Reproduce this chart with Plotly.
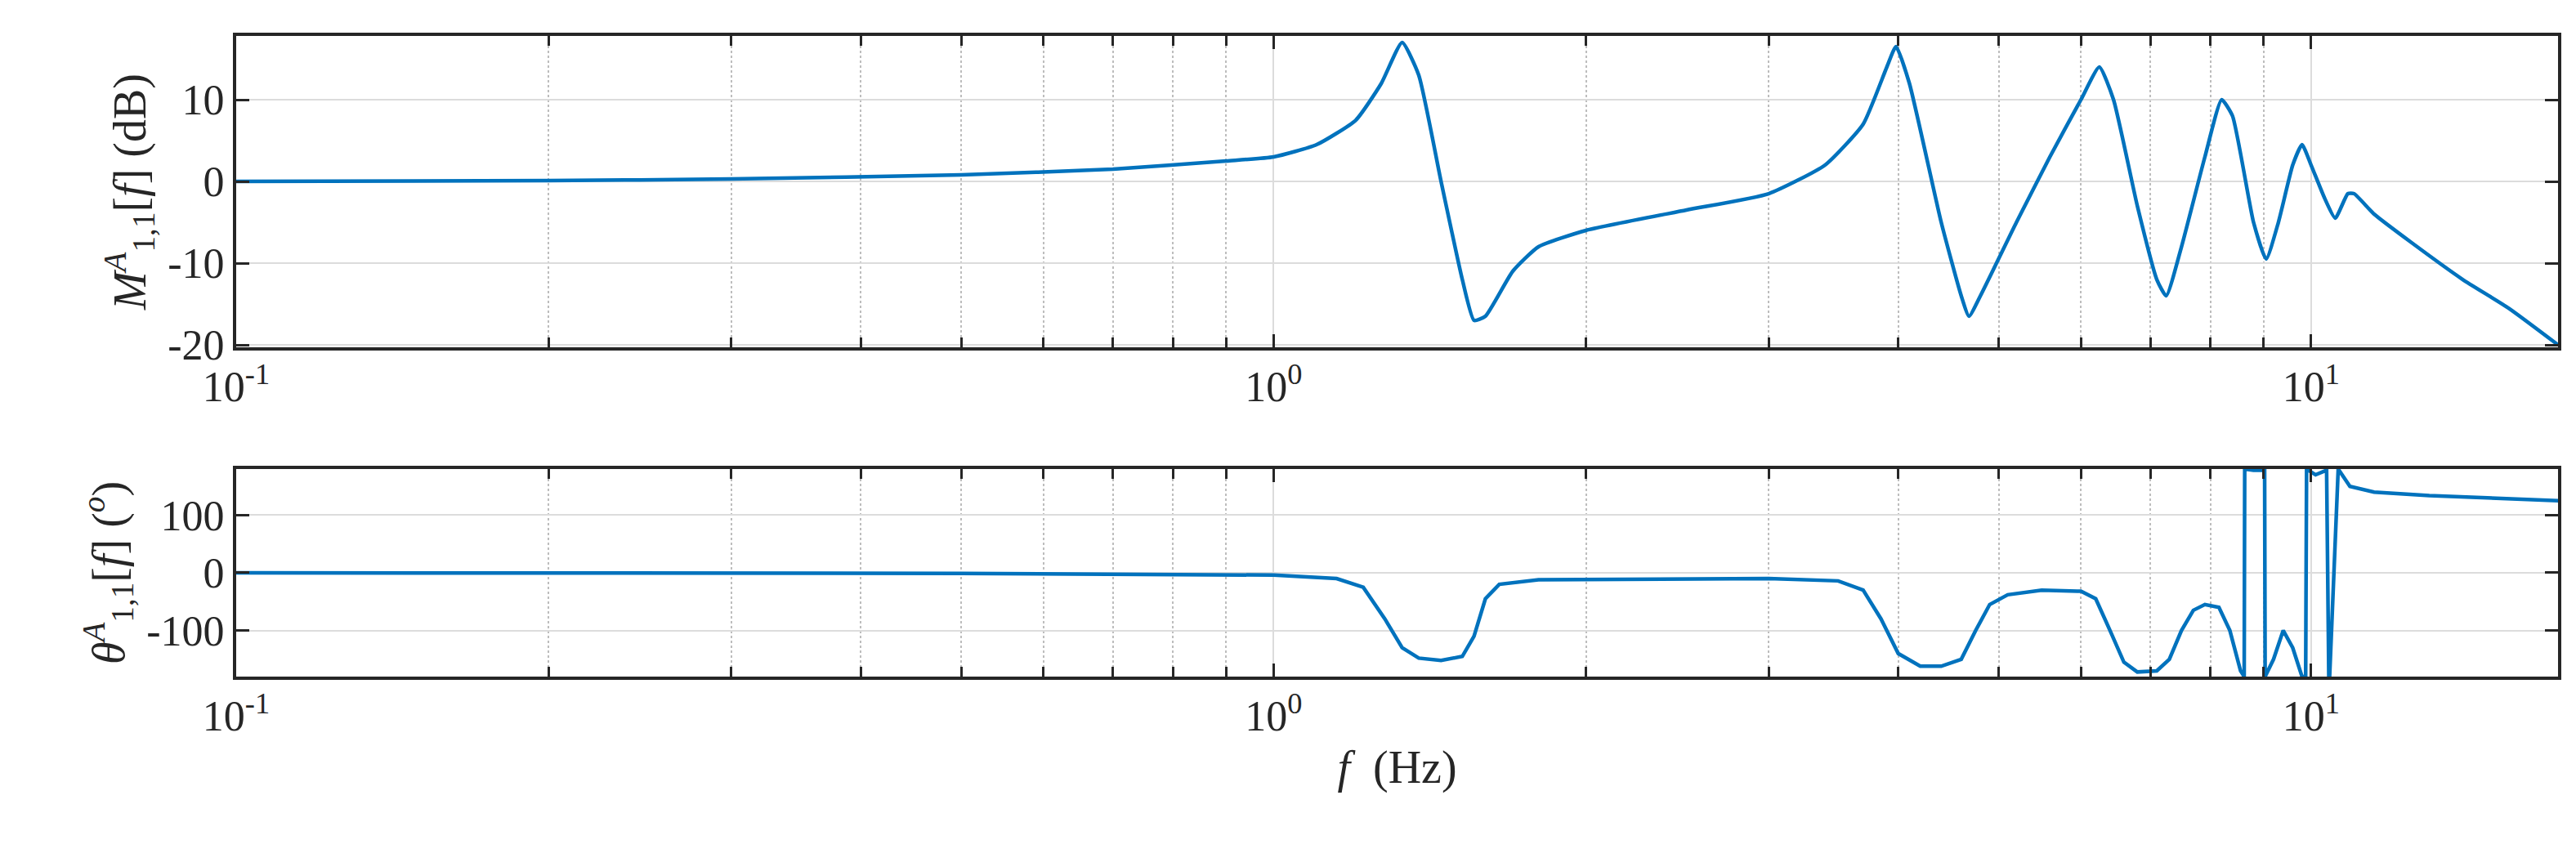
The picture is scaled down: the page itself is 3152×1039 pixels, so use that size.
import plotly.graph_objects as go
from plotly.subplots import make_subplots

# magnitude
mag_f = [0.1, 0.2, 0.3, 0.5, 0.7, 0.9, 1.0, 1.1, 1.2, 1.27, 1.33, 1.38, 1.45, 1.52, 1.56, 1.6, 1.7, 1.8,
         2.0, 2.5, 3.0, 3.4, 3.7, 3.9, 3.98, 4.1, 4.4, 4.6, 4.68, 4.8, 5.2, 5.6, 6.0, 6.25, 6.45, 6.8,
         7.1, 7.25, 7.5, 7.9, 8.2, 8.4, 8.8, 9.05, 9.3, 9.6, 9.8, 10.0, 10.3, 10.55, 10.85, 11.0,
         11.5, 12.5, 14.0, 15.5, 17.3]
mag_db = [0, 0.1, 0.3, 0.8, 1.5, 2.5, 3, 4.5, 7.5, 12, 17, 13, 0, -12, -17, -16.5, -11, -8,
          -6, -3.5, -1.5, 2, 7, 14, 16.5, 12, -5, -14, -16.5, -14, -5, 3, 10, 14, 10, -3,
          -12, -14, -8, 3, 10, 8, -5, -9.5, -5, 2, 4.5, 2, -2, -4.5, -1.5, -1.5,
          -4, -7.5, -12, -15.5, -20]

# phase
ph_f = [0.1, 0.5, 1.0, 1.15, 1.22, 1.28, 1.33, 1.38, 1.45, 1.52, 1.56, 1.6, 1.65, 1.8, 3.0, 3.5,
        3.7, 3.85, 4.0, 4.2, 4.4, 4.6, 4.75, 4.9, 5.1, 5.5, 6.0, 6.2, 6.4, 6.6, 6.8, 7.1, 7.3,
        7.5, 7.7, 7.9, 8.15, 8.35, 8.55, 8.62, 8.63, 8.8, 9.02, 9.03, 9.2, 9.4, 9.6, 9.8, 9.88,
        9.9, 10.1, 10.35, 10.4, 10.42, 10.62, 10.64, 10.9, 11.5, 13.0, 17.3]
ph_deg = [0, -1, -4, -10, -25, -80, -130, -148, -152, -145, -110, -45, -20, -12, -10, -14,
          -30, -80, -140, -162, -162, -150, -100, -55, -38, -30, -32, -45, -100, -155, -172, -170, -150,
          -100, -65, -55, -60, -100, -170, -180, 180, 178, 178, -180, -150, -100, -130, -180, -180,
          180, 170, 178, -180, -180, 180, 178, 150, 140, 134, 125]

x_major = [0.1, 1, 10]
x_major_text = ['10<sup>-1</sup>', '10<sup>0</sup>', '10<sup>1</sup>']
x_minor = [0.2, 0.3, 0.4, 0.5, 0.6, 0.7, 0.8, 0.9, 2, 3, 4, 5, 6, 7, 8, 9]
mag_ticks = [-20, -10, 0, 10]
ph_ticks = [-100, 0, 100]

blue = '#0072BD'
ink = '#262626'
font = 'Liberation Serif'

fig = make_subplots(rows=2, cols=1, row_heights=[0.6, 0.4], vertical_spacing=0.19)
fig.add_trace(go.Scatter(x=mag_f, y=mag_db, mode='lines',
                         line=dict(color=blue, width=4.5, shape='spline', smoothing=0.5)), row=1, col=1)
fig.add_trace(go.Scatter(x=ph_f, y=ph_deg, mode='lines', line=dict(color=blue, width=4.5)), row=2, col=1)

fig.update_xaxes(
    type='log', range=[-1, 1.238],
    tickvals=x_major, ticktext=x_major_text,
    ticks='inside', ticklen=16, tickwidth=3, tickcolor=ink,
    showgrid=True, gridcolor='#dcdcdc', gridwidth=2,
    minor=dict(tickvals=x_minor, ticks='inside', ticklen=12, tickwidth=3, tickcolor=ink,
               showgrid=True, gridcolor='#bdbdbd', griddash='dot', gridwidth=2),
    showline=True, linecolor=ink, linewidth=4, mirror='ticks',
    tickfont=dict(size=52, color=ink, family=font), zeroline=False,
)
fig.update_xaxes(title=dict(text='<i>f</i>  (Hz)', font=dict(size=56, family=font, color=ink), standoff=15),
                 row=2, col=1)

fig.update_yaxes(
    ticks='inside', ticklen=16, tickwidth=3, tickcolor=ink,
    showgrid=True, gridcolor='#dcdcdc', gridwidth=2, zeroline=False,
    showline=True, linecolor=ink, linewidth=4, mirror='ticks',
    tickfont=dict(size=52, color=ink, family=font),
)
fig.update_yaxes(range=[-20.3, 17.8], tickvals=mag_ticks, ticktext=[str(v) for v in mag_ticks],
                 title=dict(text='<i>M</i><sup><i>A</i></sup><sub>1,1</sub>[<i>f</i>] (dB)',
                            font=dict(size=56, family=font, color=ink), standoff=10),
                 row=1, col=1)
fig.update_yaxes(range=[-180, 180], tickvals=ph_ticks, ticktext=[str(v) for v in ph_ticks],
                 title=dict(text='<i>θ</i><sup><i>A</i></sup><sub>1,1</sub>[<i>f</i>] (<i><sup>o</sup></i>)',
                            font=dict(size=56, family=font, color=ink), standoff=10),
                 row=2, col=1)

fig.update_layout(
    width=3152, height=1039, showlegend=False,
    plot_bgcolor='white', paper_bgcolor='white',
    margin=dict(l=281, r=30, t=36, b=219),
)

fig.write_html("out.html")
